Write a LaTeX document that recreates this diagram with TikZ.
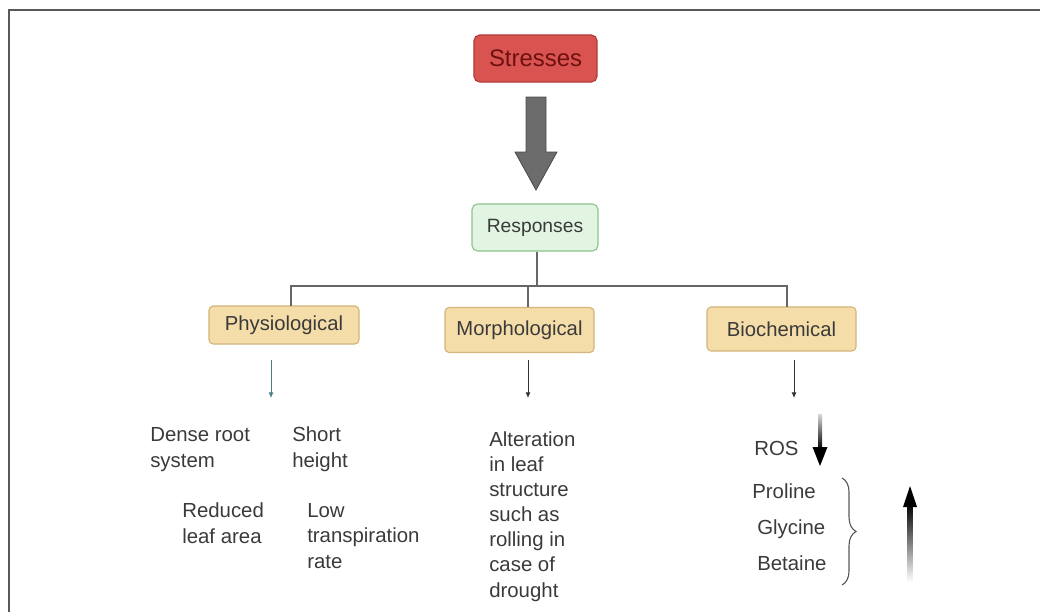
\documentclass[tikz,border=0pt]{standalone}
\usepackage{fontspec}
\setmainfont{Liberation Sans}
\usetikzlibrary{arrows.meta,calc,decorations.pathreplacing}

\definecolor{redfill}{HTML}{D95450}
\definecolor{redline}{HTML}{B03A3A}
\definecolor{redtext}{HTML}{6E1010}
\definecolor{greenfill}{HTML}{E2F5E2}
\definecolor{greenline}{HTML}{8CC48C}
\definecolor{tanfill}{HTML}{F5DDA9}
\definecolor{tanline}{HTML}{D2B47C}
\definecolor{txtgray}{HTML}{3A3A3A}

\tikzset{
  catbox/.style={draw=tanline, fill=tanfill, rounded corners=3pt, line width=0.8pt,
    text=txtgray, font=\fontsize{14.4}{17}\selectfont},
  treeline/.style={draw=gray!80!black, line width=0.9pt},
  smallarr/.style={-{Latex[length=4pt,width=3.5pt]}, line width=0.6pt},
  note/.style={anchor=base west, align=left, inner sep=0pt, text=txtgray,
    font=\fontsize{14.5}{17.8}\selectfont}
}

\begin{document}
\begin{tikzpicture}[x=0.025cm,y=-0.025cm]
    \useasboundingbox (0,0) rectangle (1040,612);
    \draw[gray!70!black, line width=1.4pt] (9,612) -- (9,10) -- (1040,10);

    % top of the tree
    \node[draw=redline, fill=redfill, rounded corners=4pt, line width=0.8pt,
          minimum width=3.075cm, minimum height=1.175cm, text=redtext,
          font=\fontsize{17}{20}\selectfont] (stress) at (535.5,58.5) {Stresses};
    \node[draw=greenline, fill=greenfill, rounded corners=4pt, line width=0.8pt,
          minimum width=3.15cm, minimum height=1.175cm, text=txtgray,
          font=\fontsize{13.7}{16}\selectfont] (resp) at (535,227.5) {Responses};

    \filldraw[fill=gray!85!black, draw=gray!60!black, line width=0.6pt]
        (526,97) -- (546,97) -- (546,152) -- (557,152) -- (536,190)
        -- (515,152) -- (526,152) -- cycle;

    % the three kinds of response
    \node[catbox, minimum width=3.75cm, minimum height=0.95cm] (phys) at (284,325) {Physiological};
    \node[catbox, minimum width=3.725cm, minimum height=1.125cm] (morph) at (519.5,330) {Morphological};
    \node[catbox, minimum width=3.725cm, minimum height=1.1cm] (bio) at (781.5,329) {Biochemical};

    \coordinate (hub) at (537,286);
    \draw[treeline] (resp.south -| hub) -- (hub);
    \draw[treeline] (291,306) |- (787,286) -- (787,307);
    \draw[treeline] (528,286) -- (528,307);

    \coordinate (pa) at (271,360);
    \coordinate (pb) at (271,398);
    \coordinate (ma) at (528,360);
    \coordinate (mb) at (528,398);
    \coordinate (ba) at (794,360);
    \coordinate (bb) at (794,398);
    \draw[smallarr, draw=teal!40!gray] (pa) -- (pb);
    \draw[smallarr, draw=gray!40!black] (ma) -- (mb);
    \draw[smallarr, draw=gray!40!black] (ba) -- (bb);

    % physiological (anchored at the last line)
    \node[note] (root) at (150,467) {Dense root\\system};
    \node[note] (short) at (292,467) {Short\\height};
    \node[note] (leaf) at (182,543) {Reduced\\leaf area};
    \node[note] (trans) at (307,568) {Low\\transpiration\\rate};

    % morphological
    \node[note] (alter) at (489,597) {Alteration\\in leaf\\structure\\such as\\rolling in\\case of\\drought};

    % biochemical
    \node[note] (ros) at (754,455) {ROS};
    \shade[top color=gray!30, bottom color=black] (818,414) rectangle (822,449);
    \fill[black] (812.5,447) -- (827.5,447) -- (820,466) -- cycle;

    \node[note] (pro) at (752,498) {Proline};
    \node[note] (gly) at (757,534) {Glycine};
    \node[note] (bet) at (757,570) {Betaine};
    \draw[gray!70!black, line width=0.8pt, decorate,
          decoration={brace, amplitude=10pt}] (842,478) -- (842,585);

    \shade[top color=black, bottom color=white] (907.5,504) rectangle (912.5,582);
    \fill[black] (903,507) -- (910,486) -- (917,507) -- cycle;
\end{tikzpicture}
\end{document}
